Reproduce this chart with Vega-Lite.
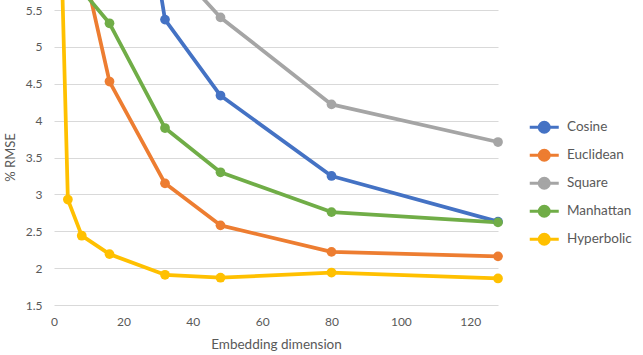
{
  "$schema": "https://vega.github.io/schema/vega-lite/v6.json",
  "width": 444,
  "height": 305,
  "autosize": {"type": "none"},
  "padding": {"left": 54, "top": 0, "right": 145, "bottom": 50},
  "background": "white",
  "config": {
    "font": "Lato",
    "view": {"stroke": null},
    "axis": {
      "labelFont": "Lato",
      "labelFontSize": 12,
      "labelColor": "#595959",
      "labelFlush": false,
      "titleFont": "Lato",
      "titleFontWeight": "normal",
      "titleColor": "#595959",
      "domain": false,
      "ticks": false,
      "gridColor": "#d9d9d9",
      "gridWidth": 1
    }
  },
  "data": {
    "values": [
      {"dim": 16, "rmse": 10, "metric": "Cosine"},
      {"dim": 32, "rmse": 5.37, "metric": "Cosine"},
      {"dim": 48, "rmse": 4.34, "metric": "Cosine"},
      {"dim": 80, "rmse": 3.25, "metric": "Cosine"},
      {"dim": 128, "rmse": 2.63, "metric": "Cosine"},
      {"dim": 8, "rmse": 6.2, "metric": "Euclidean"},
      {"dim": 16, "rmse": 4.53, "metric": "Euclidean"},
      {"dim": 32, "rmse": 3.15, "metric": "Euclidean"},
      {"dim": 48, "rmse": 2.58, "metric": "Euclidean"},
      {"dim": 80, "rmse": 2.22, "metric": "Euclidean"},
      {"dim": 128, "rmse": 2.16, "metric": "Euclidean"},
      {"dim": 32, "rmse": 6.22, "metric": "Square"},
      {"dim": 48, "rmse": 5.4, "metric": "Square"},
      {"dim": 80, "rmse": 4.22, "metric": "Square"},
      {"dim": 128, "rmse": 3.71, "metric": "Square"},
      {"dim": 8, "rmse": 5.77, "metric": "Manhattan"},
      {"dim": 16, "rmse": 5.32, "metric": "Manhattan"},
      {"dim": 32, "rmse": 3.9, "metric": "Manhattan"},
      {"dim": 48, "rmse": 3.3, "metric": "Manhattan"},
      {"dim": 80, "rmse": 2.76, "metric": "Manhattan"},
      {"dim": 128, "rmse": 2.62, "metric": "Manhattan"},
      {"dim": 2, "rmse": 6.5, "metric": "Hyperbolic"},
      {"dim": 4, "rmse": 2.93, "metric": "Hyperbolic"},
      {"dim": 8, "rmse": 2.44, "metric": "Hyperbolic"},
      {"dim": 16, "rmse": 2.19, "metric": "Hyperbolic"},
      {"dim": 32, "rmse": 1.91, "metric": "Hyperbolic"},
      {"dim": 48, "rmse": 1.87, "metric": "Hyperbolic"},
      {"dim": 80, "rmse": 1.94, "metric": "Hyperbolic"},
      {"dim": 128, "rmse": 1.86, "metric": "Hyperbolic"}
    ]
  },
  "encoding": {
    "x": {
      "field": "dim",
      "type": "quantitative",
      "scale": {"domain": [0, 128], "nice": false},
      "axis": {
        "title": "Embedding dimension",
        "titleFontSize": 13.5,
        "values": [0, 20, 40, 60, 80, 100, 120],
        "grid": false,
        "labelPadding": 11,
        "titleX": 222,
        "titleY": 39,
        "titleBaseline": "middle"
      }
    },
    "y": {
      "field": "rmse",
      "type": "quantitative",
      "scale": {"domain": [1.5, 5.636], "nice": false, "zero": false},
      "axis": {
        "title": "% RMSE",
        "titleFontSize": 13,
        "values": [1.5, 2, 2.5, 3, 3.5, 4, 4.5, 5, 5.5],
        "format": "~g",
        "grid": true,
        "labelPadding": 12,
        "titleX": -44,
        "titleY": 157,
        "titleAngle": 270,
        "titleBaseline": "middle",
        "titleAlign": "center"
      }
    },
    "color": {
      "field": "metric",
      "type": "nominal",
      "scale": {
        "domain": ["Cosine", "Euclidean", "Square", "Manhattan", "Hyperbolic"],
        "range": ["#4472C4", "#ED7D31", "#A5A5A5", "#70AD47", "#FFC000"]
      },
      "legend": {
        "orient": "none",
        "legendX": 483.5,
        "legendY": 120.5,
        "title": null,
        "padding": 0,
        "symbolType": "M-2.9,0H2.9M1,0A1,1,0,1,1,-1,0A1,1,0,1,1,1,0Z",
        "symbolSize": 100,
        "symbolStrokeWidth": 3,
        "symbolOpacity": 1,
        "labelFont": "Lato",
        "labelFontSize": 13.5,
        "labelColor": "#595959",
        "labelOffset": 16,
        "rowPadding": 5,
        "encode": {
          "symbols": {
            "update": {
              "fill": {"scale": "color", "field": "value"},
              "stroke": {"scale": "color", "field": "value"},
              "strokeWidth": {"value": 3},
              "opacity": {"value": 1}
            }
          }
        }
      }
    }
  },
  "layer": [
    {
      "mark": {"type": "line", "strokeWidth": 3.75, "strokeJoin": "round", "strokeCap": "round"}
    },
    {
      "mark": {"type": "circle", "size": 95, "opacity": 1}
    }
  ]
}
